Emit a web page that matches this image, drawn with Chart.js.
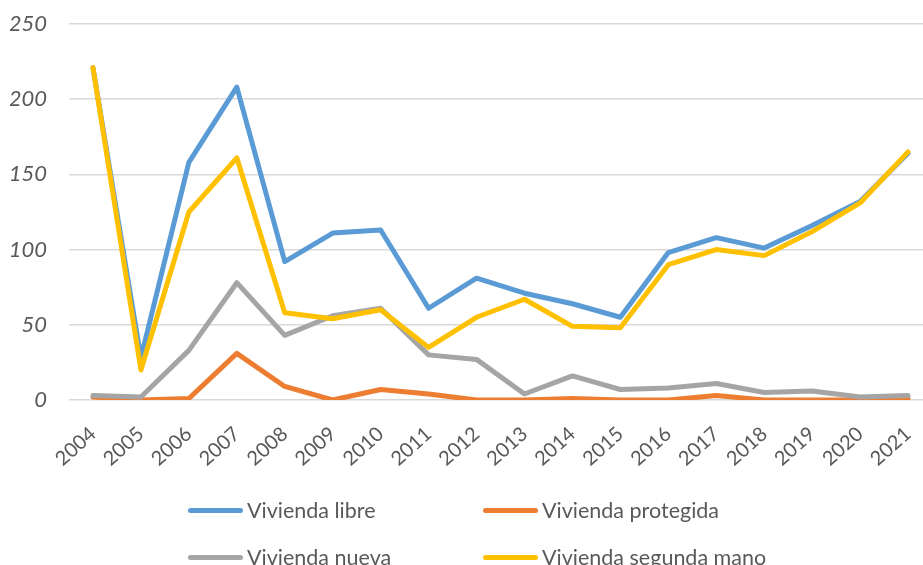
<!DOCTYPE html>
<html>
<head>
<meta charset="utf-8">
<script src="https://cdn.jsdelivr.net/npm/chart.js@4/dist/chart.umd.min.js"></script>
<style>
  html, body { margin: 0; padding: 0; background: #fff; overflow: hidden; }
  #wrap { position: relative; width: 923px; height: 565px; overflow: hidden; }
  #legend { position: absolute; left: 0; top: 0; width: 923px; height: 565px; pointer-events: none;
    font-family: Lato, "Open Sans", sans-serif; font-size: 21.5px; color: #595959; }
  .item { position: absolute; display: flex; align-items: center; white-space: nowrap; }
  .swatch { width: 55px; height: 5px; border-radius: 3px; margin-right: 4px; }
</style>
</head>
<body>
<div id="wrap">
  <canvas id="c" width="932" height="565"></canvas>
  <div id="legend"></div>
</div>
<script>
const categories = ["2004","2005","2006","2007","2008","2009","2010","2011","2012","2013","2014","2015","2016","2017","2018","2019","2020","2021"];
const viviendaLibre     = [221, 28, 158, 208, 92, 111, 113, 61, 81, 71, 64, 55, 98, 108, 101, 116, 132, 164];
const viviendaProtegida = [2, 0, 1, 31, 9, 0, 7, 4, 0, 0, 1, 0, 0, 3, 0, 0, 0, 1];
const viviendaNueva     = [3, 2, 33, 78, 43, 56, 61, 30, 27, 4, 16, 7, 8, 11, 5, 6, 2, 3];
const viviendaSegunda   = [221, 20, 125, 161, 58, 54, 60, 35, 55, 67, 49, 48, 90, 100, 96, 112, 131, 165];
const yTicks = [0, 50, 100, 150, 200, 250];
const seriesNames = ["Vivienda libre", "Vivienda protegida", "Vivienda nueva", "Vivienda segunda mano"];
const colors = ["#5B9BD5", "#ED7D31", "#A5A5A5", "#FFC000"];

const allSeries = [viviendaLibre, viviendaProtegida, viviendaNueva, viviendaSegunda];
const datasets = allSeries.map((d, i) => ({
  label: seriesNames[i],
  data: d,
  borderColor: colors[i],
  backgroundColor: colors[i],
  borderWidth: 5,
  pointRadius: 0,
  tension: 0,
  borderCapStyle: 'round',
  borderJoinStyle: 'round',
  order: 4 - i,
  fill: false
}));

new Chart(document.getElementById('c'), {
  type: 'line',
  data: { labels: categories, datasets },
  options: {
    responsive: false,
    animation: false,
    layout: { padding: { top: 24, right: 0, bottom: 95, left: 10 } },
    plugins: { legend: { display: false }, tooltip: { enabled: false } },
    scales: {
      x: {
        offset: true,
        grid: { display: false, drawTicks: false },
        border: { display: false },
        afterFit: (s) => { s.paddingLeft = 0; s.paddingRight = 0; s.height = 70; },
        ticks: {
          color: '#595959',
          font: { family: 'Lato', size: 20 },
          minRotation: 42, maxRotation: 42,
          padding: 22,
          autoSkip: false
        }
      },
      y: {
        min: 0, max: 250,
        afterBuildTicks: (axis) => { axis.ticks = yTicks.map(v => ({ value: v })); },
        afterFit: (s) => { s.paddingTop = 0; s.paddingBottom = 0; s.width = 59; },
        grid: { color: '#D9D9D9', lineWidth: 1.5, drawTicks: false },
        border: { display: false },
        ticks: {
          color: '#595959',
          font: { family: 'Lato', size: 22, style: 'italic' },
          padding: 22
        }
      }
    }
  }
});

const legendPos = [[188, 510], [483, 510], [188, 557], [483, 557]];
const lg = document.getElementById('legend');
seriesNames.forEach((n, i) => {
  const it = document.createElement('div');
  it.className = 'item';
  it.style.left = legendPos[i][0] + 'px';
  it.style.top = (legendPos[i][1] - 13) + 'px';
  it.style.height = '26px';
  it.innerHTML = '<span class="swatch" style="background:' + colors[i] + '"></span><span>' + n + '</span>';
  lg.appendChild(it);
});
</script>
</body>
</html>
